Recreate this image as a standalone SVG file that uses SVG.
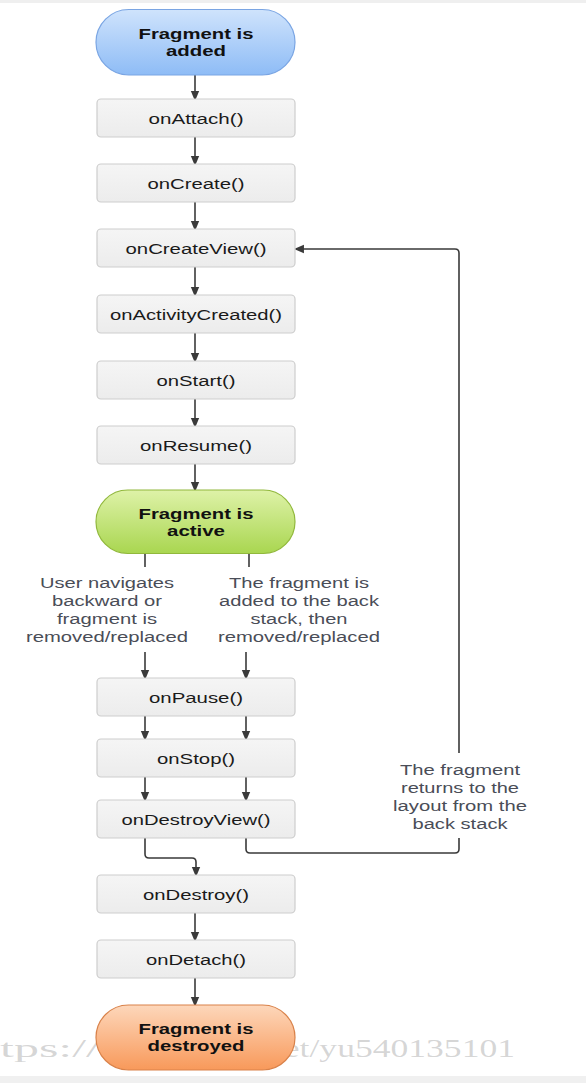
<svg xmlns="http://www.w3.org/2000/svg" width="586" height="1083" viewBox="0 0 586 1083">
<defs>
<linearGradient id="gBlue" x1="0" y1="0" x2="0" y2="1"><stop offset="0" stop-color="#cfe3fc"/><stop offset="1" stop-color="#8ebcf6"/></linearGradient>
<linearGradient id="gGreen" x1="0" y1="0" x2="0" y2="1"><stop offset="0" stop-color="#def2a8"/><stop offset="1" stop-color="#a9d650"/></linearGradient>
<linearGradient id="gOrange" x1="0" y1="0" x2="0" y2="1"><stop offset="0" stop-color="#fdd7bb"/><stop offset="1" stop-color="#f8995a"/></linearGradient>
<linearGradient id="gBox" x1="0" y1="0" x2="0" y2="1"><stop offset="0" stop-color="#f5f5f5"/><stop offset="1" stop-color="#ececec"/></linearGradient>
<marker id="arr" markerWidth="10" markerHeight="12" refX="9.5" refY="5" orient="auto" markerUnits="userSpaceOnUse" viewBox="0 0 12 10">
<path d="M0,0 L12,5 L0,10 Z" fill="#3a3a3a"/>
</marker>
</defs>
<style>
.box{fill:url(#gBox);stroke:#cdcdcd;stroke-width:1.2}
.lbl{font-family:"Liberation Sans",Arial,sans-serif;font-size:15.5px;fill:#1a1a1a;text-anchor:middle}
.bold{font-family:"Liberation Sans",Arial,sans-serif;font-size:15.5px;font-weight:bold;fill:#111;text-anchor:middle}
.note{font-family:"Liberation Sans",Arial,sans-serif;font-size:15.5px;fill:#4a4d57;text-anchor:middle}
.con{fill:none;stroke:#3a3a3a;stroke-width:1.6}
.wm{font-family:"Liberation Serif",serif;font-size:26px;fill:#888;fill-opacity:0.35}
</style>
<rect x="0" y="0" width="586" height="1083" fill="#ffffff"/>
<rect x="0" y="0" width="586" height="3" fill="#efefef"/>
<rect x="0" y="1076" width="586" height="7" fill="#f0f0f0"/>

<g id="connectors">
<path class="con" d="M195,75 V99" marker-end="url(#arr)"/>
<path class="con" d="M195,137 V164" marker-end="url(#arr)"/>
<path class="con" d="M195,202 V229" marker-end="url(#arr)"/>
<path class="con" d="M195,267 V295" marker-end="url(#arr)"/>
<path class="con" d="M195,333 V361" marker-end="url(#arr)"/>
<path class="con" d="M195,399 V426" marker-end="url(#arr)"/>
<path class="con" d="M195,464 V490" marker-end="url(#arr)"/>
<path class="con" d="M145,554 V567"/>
<path class="con" d="M249,554 V567"/>
<path class="con" d="M145,652 V678" marker-end="url(#arr)"/>
<path class="con" d="M246,652 V678" marker-end="url(#arr)"/>
<path class="con" d="M145,716 V739" marker-end="url(#arr)"/>
<path class="con" d="M246,716 V739" marker-end="url(#arr)"/>
<path class="con" d="M145,777 V800" marker-end="url(#arr)"/>
<path class="con" d="M246,777 V800" marker-end="url(#arr)"/>
<path class="con" d="M145,838 V854 Q145,858 149,858 H192 Q196,858 196,862 V875" marker-end="url(#arr)"/>
<path class="con" d="M246,838 V849 Q246,853 250,853 H455 Q459,853 459,849 V838"/>
<path class="con" d="M459,753 V253 Q459,249 455,249 H296" marker-end="url(#arr)"/>
<path class="con" d="M195,913 V940" marker-end="url(#arr)"/>
<path class="con" d="M195,978 V1005" marker-end="url(#arr)"/>
</g>

<g id="n-added">
<rect x="96" y="9.5" width="199" height="65.5" rx="32.75" fill="url(#gBlue)" stroke="#7aa5e3" stroke-width="1.2"/>
<text class="bold" x="196" y="39" textLength="115" lengthAdjust="spacingAndGlyphs">Fragment is</text>
<text class="bold" x="196" y="56" textLength="60" lengthAdjust="spacingAndGlyphs">added</text>
</g>
<g id="n-onAttach"><rect class="box" x="97" y="99" width="198" height="38" rx="4"/><text class="lbl" x="196" y="124" textLength="95" lengthAdjust="spacingAndGlyphs">onAttach()</text></g>
<g id="n-onCreate"><rect class="box" x="97" y="164" width="198" height="38" rx="4"/><text class="lbl" x="196" y="189" textLength="97" lengthAdjust="spacingAndGlyphs">onCreate()</text></g>
<g id="n-onCreateView"><rect class="box" x="97" y="229" width="198" height="38" rx="4"/><text class="lbl" x="196" y="254" textLength="141" lengthAdjust="spacingAndGlyphs">onCreateView()</text></g>
<g id="n-onActivityCreated"><rect class="box" x="97" y="295" width="198" height="38" rx="4"/><text class="lbl" x="196" y="320" textLength="172" lengthAdjust="spacingAndGlyphs">onActivityCreated()</text></g>
<g id="n-onStart"><rect class="box" x="97" y="361" width="198" height="38" rx="4"/><text class="lbl" x="196" y="386" textLength="79" lengthAdjust="spacingAndGlyphs">onStart()</text></g>
<g id="n-onResume"><rect class="box" x="97" y="426" width="198" height="38" rx="4"/><text class="lbl" x="196" y="451" textLength="112" lengthAdjust="spacingAndGlyphs">onResume()</text></g>
<g id="n-active">
<rect x="96" y="490" width="199" height="63.5" rx="31.75" fill="url(#gGreen)" stroke="#91b83c" stroke-width="1.2"/>
<text class="bold" x="196" y="519" textLength="115" lengthAdjust="spacingAndGlyphs">Fragment is</text>
<text class="bold" x="196" y="536" textLength="58" lengthAdjust="spacingAndGlyphs">active</text>
</g>
<g id="label-left">
<text class="note" x="107" y="588" textLength="134" lengthAdjust="spacingAndGlyphs">User navigates</text>
<text class="note" x="107" y="606" textLength="110" lengthAdjust="spacingAndGlyphs">backward or</text>
<text class="note" x="107" y="624" textLength="100" lengthAdjust="spacingAndGlyphs">fragment is</text>
<text class="note" x="107" y="642" textLength="162" lengthAdjust="spacingAndGlyphs">removed/replaced</text>
</g>
<g id="label-right">
<text class="note" x="299" y="588" textLength="140" lengthAdjust="spacingAndGlyphs">The fragment is</text>
<text class="note" x="299" y="606" textLength="160" lengthAdjust="spacingAndGlyphs">added to the back</text>
<text class="note" x="299" y="624" textLength="97" lengthAdjust="spacingAndGlyphs">stack, then</text>
<text class="note" x="299" y="642" textLength="162" lengthAdjust="spacingAndGlyphs">removed/replaced</text>
</g>
<g id="n-onPause"><rect class="box" x="97" y="678" width="198" height="38" rx="4"/><text class="lbl" x="196" y="703" textLength="94" lengthAdjust="spacingAndGlyphs">onPause()</text></g>
<g id="n-onStop"><rect class="box" x="97" y="739" width="198" height="38" rx="4"/><text class="lbl" x="196" y="764" textLength="78" lengthAdjust="spacingAndGlyphs">onStop()</text></g>
<g id="n-onDestroyView"><rect class="box" x="97" y="800" width="198" height="38" rx="4"/><text class="lbl" x="196" y="825" textLength="149" lengthAdjust="spacingAndGlyphs">onDestroyView()</text></g>
<g id="label-return">
<text class="note" x="460" y="775" textLength="120" lengthAdjust="spacingAndGlyphs">The fragment</text>
<text class="note" x="460" y="793" textLength="118" lengthAdjust="spacingAndGlyphs">returns to the</text>
<text class="note" x="460" y="811" textLength="134" lengthAdjust="spacingAndGlyphs">layout from the</text>
<text class="note" x="460" y="829" textLength="95" lengthAdjust="spacingAndGlyphs">back stack</text>
</g>
<g id="n-onDestroy"><rect class="box" x="97" y="875" width="198" height="38" rx="4"/><text class="lbl" x="196" y="900" textLength="106" lengthAdjust="spacingAndGlyphs">onDestroy()</text></g>
<g id="n-onDetach"><rect class="box" x="97" y="940" width="198" height="38" rx="4"/><text class="lbl" x="196" y="965" textLength="100" lengthAdjust="spacingAndGlyphs">onDetach()</text></g>
<g id="watermark">
<text class="wm" x="0" y="1057" textLength="100" lengthAdjust="spacingAndGlyphs">tps://</text>
<text class="wm" x="266" y="1057" textLength="249" lengthAdjust="spacingAndGlyphs">net/yu540135101</text>
</g>
<g id="n-destroyed">
<rect x="96" y="1005" width="199" height="65" rx="32.5" fill="url(#gOrange)" stroke="#d9824a" stroke-width="1.2"/>
<text class="bold" x="196" y="1034" textLength="115" lengthAdjust="spacingAndGlyphs">Fragment is</text>
<text class="bold" x="196" y="1051" textLength="97" lengthAdjust="spacingAndGlyphs">destroyed</text>
</g>
</svg>
